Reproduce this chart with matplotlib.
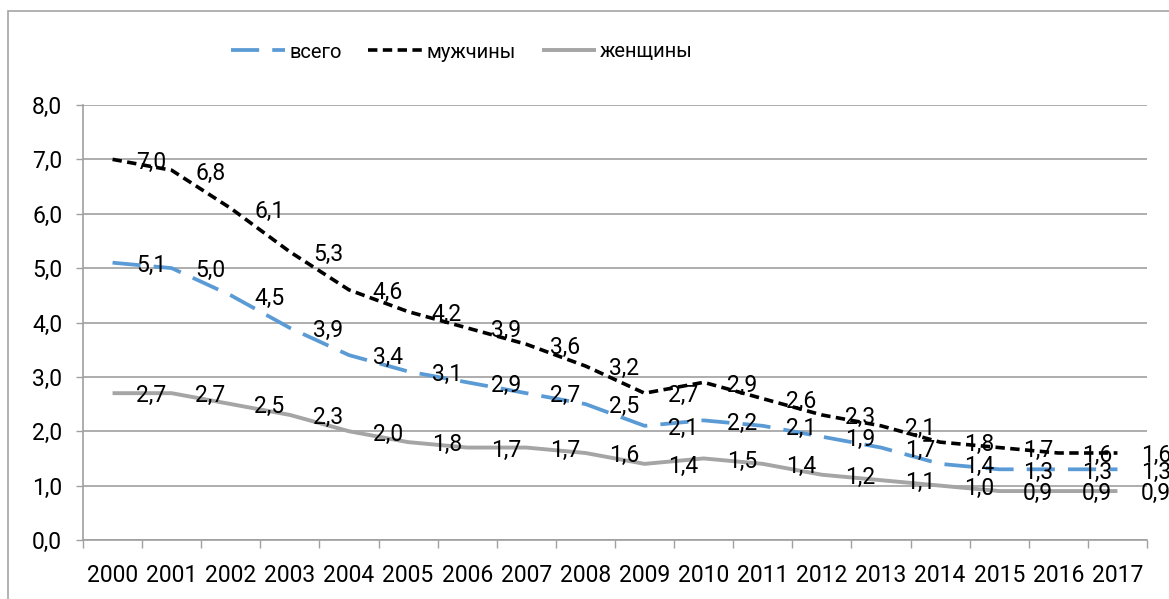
import matplotlib
matplotlib.use("Agg")
import matplotlib.pyplot as plt
from matplotlib.lines import Line2D
from matplotlib.patches import Rectangle
import numpy as np

plt.rcParams['font.family'] = ['Roboto', 'DejaVu Sans']

years = ['2000', '2001', '2002', '2003', '2004', '2005', '2006', '2007', '2008',
         '2009', '2010', '2011', '2012', '2013', '2014', '2015', '2016', '2017']
total = [5.1, 5.0, 4.5, 3.9, 3.4, 3.1, 2.9, 2.7, 2.5, 2.1, 2.2, 2.1, 1.9, 1.7, 1.4, 1.3, 1.3, 1.3]
men = [7.0, 6.8, 6.1, 5.3, 4.6, 4.2, 3.9, 3.6, 3.2, 2.7, 2.9, 2.6, 2.3, 2.1, 1.8, 1.7, 1.6, 1.6]
women = [2.7, 2.7, 2.5, 2.3, 2.0, 1.8, 1.7, 1.7, 1.6, 1.4, 1.5, 1.4, 1.2, 1.1, 1.0, 0.9, 0.9, 0.9]
series_names = ['всего', 'мужчины', 'женщины']
y_ticks = [0, 1, 2, 3, 4, 5, 6, 7, 8]

W, H, DPI = 1169, 599, 100
fig = plt.figure(figsize=(W / DPI, H / DPI), dpi=DPI)
ax = fig.add_axes([83 / W, 1 - 540 / H, (1147 - 83) / W, (540 - 105) / H])

FS = 16.5
grid_c = '#A0A0A0'
x = np.arange(len(years))

styles = [
    dict(color='#5B9BD5', lw=2.7, dashes=(7.5, 3.5), dash_capstyle='butt'),
    dict(color='#000000', lw=2.6, dashes=(2.6, 1.5), dash_capstyle='butt'),
    dict(color='#A5A5A5', lw=2.8, solid_capstyle='butt'),
]
data = [total, men, women]

for vals, st in zip(data, styles):
    ax.plot(x, vals, zorder=3, **st)

for vals in data:
    for xi, v in zip(x, vals):
        ax.annotate(f'{v:.1f}'.replace('.', ','), (xi, v), xytext=(17, -2),
                    textcoords='offset points', ha='left', va='center',
                    fontsize=FS, color='black', zorder=4, annotation_clip=False)

ax.set_xlim(-0.5, len(years) - 0.5)
ax.set_ylim(0, 8)
ax.set_yticks(y_ticks)
ax.set_yticklabels([f'{t:.1f}'.replace('.', ',') for t in y_ticks], fontsize=FS)
ax.yaxis.grid(True, color=grid_c, lw=1.2)
ax.set_axisbelow(True)

ax.set_xticks(np.arange(-0.5, len(years), 1.0))
ax.set_xticklabels([])
ax.set_xticks(x, minor=True)
ax.set_xticklabels(years, minor=True, fontsize=FS)
ax.tick_params(axis='x', which='major', length=6, width=1, color=grid_c, direction='out')
ax.tick_params(axis='x', which='minor', length=0, pad=17)
ax.tick_params(axis='y', length=5, width=1, color=grid_c, pad=10)

for s in ['top', 'right']:
    ax.spines[s].set_visible(False)
for s in ['left', 'bottom']:
    ax.spines[s].set_color(grid_c)
    ax.spines[s].set_linewidth(1.2)

handles = [Line2D([], [], **st) for st in styles]
fig.legend(handles, series_names, loc='center', bbox_to_anchor=(462 / W, 1 - 52 / H),
           ncol=3, frameon=False, fontsize=14.5, handlelength=2.7, handletextpad=0.2,
           columnspacing=1.3)

fig.patches.append(Rectangle((8 / W, -0.1), 1.2, 1.1 - 11 / H, transform=fig.transFigure,
                             fill=False, edgecolor='#A6A6A6', lw=1.2))

fig.savefig('out.png', dpi=DPI)
